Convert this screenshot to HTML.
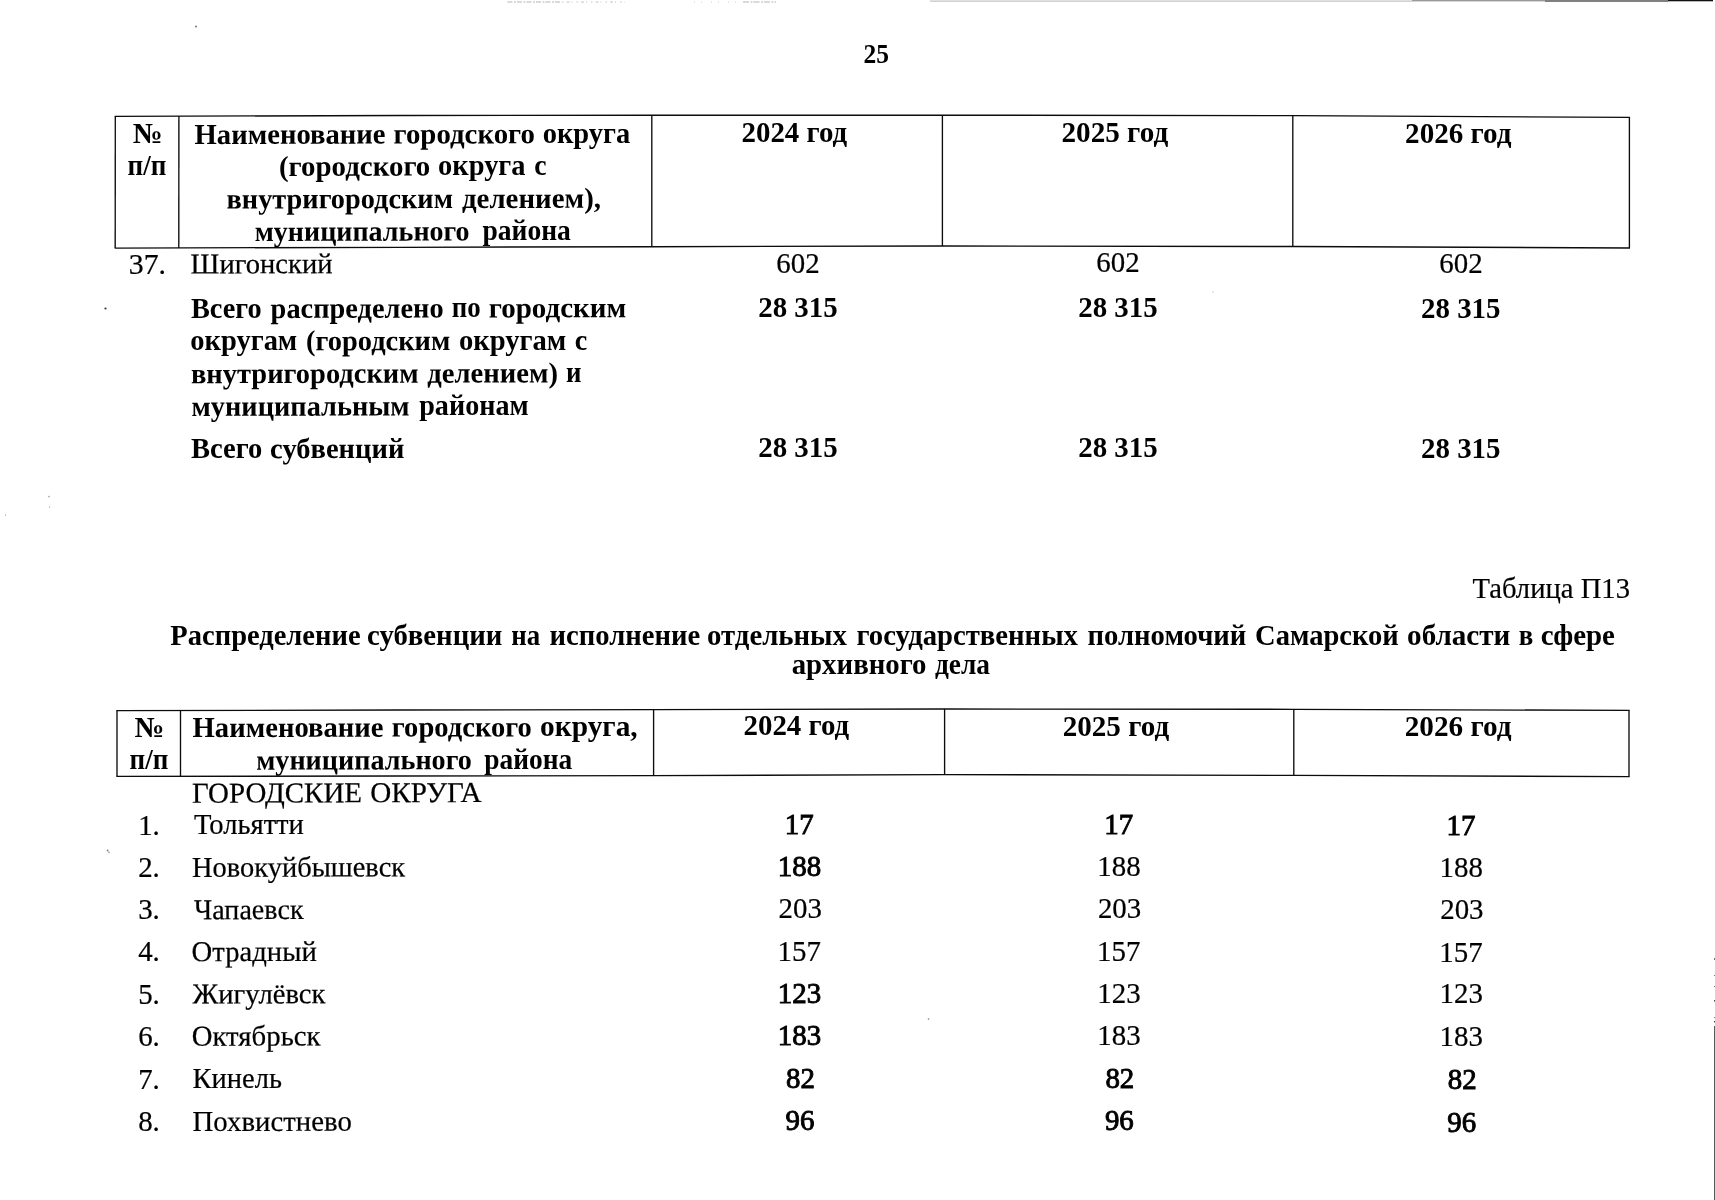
<!DOCTYPE html>
<html lang="ru"><head><meta charset="utf-8"><title>25</title>
<style>
html,body{margin:0;padding:0;background:#fff;}
body{width:1715px;height:1200px;position:relative;overflow:hidden;}
#pg{position:absolute;left:0;top:0;width:1715px;height:1200px;overflow:hidden;font-family:"Liberation Serif",serif;color:#000;filter:blur(0.4px);}
.t{position:absolute;white-space:pre;line-height:normal;font-size:28.9px;-webkit-text-stroke:0.22px #000;}
.b{font-weight:bold;-webkit-text-stroke:0;}
.s{-webkit-text-stroke:0.9px #000;}
svg{position:absolute;left:0;top:0;}
</style></head><body><div id="pg">
<svg width="1715" height="1200" viewBox="0 0 1715 1200" fill="none" stroke="#0c0c0c" stroke-width="1.35">
<polyline points="114.7,116.4 400,115.5 650,115.2 940,115.2 1293,115.6 1630,117.4"/>
<polyline points="114.7,248.1 400,247.3 650,246.7 940,246.0 1293,246.5 1630,248.0"/>
<line x1="115.3" y1="116.3" x2="115.2" y2="248.1"/>
<line x1="178.9" y1="116" x2="178.8" y2="247.9"/>
<line x1="651.8" y1="115.2" x2="651.8" y2="246.7"/>
<line x1="942.4" y1="115.2" x2="942.4" y2="246.0"/>
<line x1="1292.8" y1="115.6" x2="1292.8" y2="246.7"/>
<line x1="1629.4" y1="117.4" x2="1629.4" y2="248"/>
<polyline points="116.4,710.6 400,710.0 653,709.6 944,709.0 1294,709.3 1629.6,710.4"/>
<polyline points="116.4,776.4 400,776.0 653,775.6 944,774.6 1294,775.4 1629.6,776.6"/>
<line x1="117" y1="710.6" x2="117" y2="776.4"/>
<line x1="180.5" y1="710.4" x2="180.5" y2="776.3"/>
<line x1="653.6" y1="709.6" x2="653.6" y2="775.6"/>
<line x1="944.6" y1="709" x2="944.6" y2="774.6"/>
<line x1="1293.8" y1="709.3" x2="1293.8" y2="775.4"/>
<line x1="1629" y1="710.4" x2="1629" y2="776.6"/>
<g stroke="none">
<rect x="930" y="0.6" width="482" height="1" fill="#b4b4b4"/>
<rect x="1412" y="0" width="133" height="1.4" fill="#9a9a9a"/>
<rect x="1545" y="0" width="123" height="2" fill="#808080"/>
<rect x="1668" y="0" width="45" height="1.3" fill="#111"/>
<rect x="1714" y="1026" width="1" height="174" fill="#5a5a5a"/>
<rect x="1714" y="958" width="1" height="2" fill="#777"/><rect x="1714" y="975" width="1" height="1" fill="#777"/><rect x="1714" y="986" width="1" height="1" fill="#777"/><rect x="1714" y="1000" width="1" height="1.5" fill="#444"/><rect x="1714" y="1017" width="1" height="1" fill="#777"/><rect x="1714" y="1021" width="1" height="1.5" fill="#444"/>
<path d="M507.5 2H560" stroke="#b5b5b5" stroke-width="1" stroke-dasharray="5 1.5 2 1"/><path d="M562 2H625" stroke="#c4c4c4" stroke-width="1" stroke-dasharray="1.5 3 3 2 1 4"/><path d="M694 2H742" stroke="#cfcfcf" stroke-width="1" stroke-dasharray="1 6 1 9"/><path d="M743 2H776" stroke="#b5b5b5" stroke-width="1" stroke-dasharray="6 1.5 2 1"/>
<circle cx="105.5" cy="308.5" r="1.1" fill="#333"/>
<circle cx="196" cy="26.5" r="0.9" fill="#666"/>
<circle cx="107.6" cy="850.6" r="1" fill="#888"/><circle cx="109" cy="852.4" r="0.8" fill="#999"/><circle cx="49" cy="496.6" r="0.8" fill="#999"/><circle cx="49.5" cy="507" r="0.7" fill="#aaa"/><circle cx="5.5" cy="515" r="0.7" fill="#aaa"/><circle cx="1213" cy="292" r="0.6" fill="#999"/>
<circle cx="928.5" cy="1019" r="0.8" fill="#777"/>
</g>
</svg>

<div class="t b" style="left:863px;top:38px;font-size:26.4px;transform-origin:0 24px;transform:translate(0.40px,0.50px) rotate(0.006deg) scaleX(0.9657);">25</div>
<div class="t b" style="left:132px;top:117px;transform-origin:0 26px;transform:translate(0.66px,0.43px) rotate(0.006deg) scaleX(1.0300);">№</div>
<div class="t b" style="left:127px;top:149px;transform-origin:0 26px;transform:translate(0.58px,0.22px) rotate(0.006deg) scaleX(0.9386);">п/п</div>
<div class="t b" style="left:194px;top:118px;transform-origin:0 26px;transform:translate(0.55px,0.01px) rotate(-0.143deg) scaleX(0.9918);">Наименование</div>
<div class="t b" style="left:393px;top:117px;transform-origin:0 26px;transform:translate(0.55px,0.52px) rotate(-0.094deg) scaleX(0.9985);">городского</div>
<div class="t b" style="left:542px;top:117px;transform-origin:0 26px;transform:translate(0.71px,0.20px) rotate(0.006deg) scaleX(0.9851);">округа</div>
<div class="t b" style="left:278px;top:149px;transform-origin:0 26px;transform:translate(0.89px,0.90px) rotate(-0.133deg) scaleX(1.0021);">(городского</div>
<div class="t b" style="left:438px;top:149px;transform-origin:0 26px;transform:translate(0.11px,0.47px) rotate(0.006deg) scaleX(0.9839);">округа</div>
<div class="t b" style="left:534px;top:149px;transform-origin:0 26px;transform:translate(0.14px,0.38px) rotate(0.006deg) scaleX(0.9567);">с</div>
<div class="t b" style="left:226px;top:182px;transform-origin:0 26px;transform:translate(0.56px,0.53px) rotate(-0.131deg) scaleX(0.9805);">внутригородским</div>
<div class="t b" style="left:462px;top:182px;transform-origin:0 26px;transform:translate(0.00px,0.00px) rotate(-0.092deg) scaleX(0.9989);">делением),</div>
<div class="t b" style="left:254px;top:214px;transform-origin:0 26px;transform:translate(0.76px,0.96px) rotate(-0.127deg) scaleX(0.9701);">муниципального</div>
<div class="t b" style="left:482px;top:214px;transform-origin:0 26px;transform:translate(0.50px,0.40px) rotate(0.006deg) scaleX(0.9534);">района</div>
<div class="t b" style="left:741px;top:116px;transform-origin:0 26px;transform:translate(0.50px,0.44px) rotate(0.006deg);">2024 год</div>
<div class="t b" style="left:1061px;top:115px;transform-origin:0 26px;transform:translate(0.49px,0.83px) rotate(0.006deg) scaleX(1.0096);">2025 год</div>
<div class="t b" style="left:1405px;top:116px;transform-origin:0 26px;transform:translate(0.09px,0.74px) rotate(0.006deg) scaleX(1.0077);">2026 год</div>
<div class="t" style="left:128px;top:247px;transform-origin:0 26px;transform:translate(0.83px,0.52px) rotate(0.006deg) scaleX(1.0300);">37.</div>
<div class="t" style="left:190px;top:247px;transform-origin:0 26px;transform:translate(0.55px,0.52px) rotate(-0.143deg) scaleX(0.9898);">Шигонский</div>
<div class="t" style="left:776px;top:246px;transform-origin:0 26px;transform:translate(0.25px,0.52px) rotate(0.006deg);">602</div>
<div class="t" style="left:1096px;top:246px;transform-origin:0 26px;transform:translate(0.25px,0.36px) rotate(0.006deg);">602</div>
<div class="t" style="left:1439px;top:247px;transform-origin:0 26px;transform:translate(0.35px,0.12px) rotate(0.006deg);">602</div>
<div class="t b" style="left:190px;top:292px;transform-origin:0 26px;transform:translate(0.96px,0.03px) rotate(0.006deg) scaleX(0.9805);">Всего</div>
<div class="t b" style="left:270px;top:291px;transform-origin:0 26px;transform:translate(0.60px,0.92px) rotate(-0.130deg) scaleX(0.9828);">распределено</div>
<div class="t b" style="left:451px;top:291px;transform-origin:0 26px;transform:translate(0.75px,0.49px) rotate(0.006deg) scaleX(0.9300);">по</div>
<div class="t b" style="left:488px;top:291px;transform-origin:0 26px;transform:translate(0.75px,0.46px) rotate(-0.092deg) scaleX(1.0044);">городским</div>
<div class="t b" style="left:190px;top:324px;transform-origin:0 26px;transform:translate(0.31px,0.49px) rotate(0.006deg) scaleX(0.9862);">округам</div>
<div class="t b" style="left:306px;top:324px;transform-origin:0 26px;transform:translate(0.11px,0.33px) rotate(-0.125deg) scaleX(0.9843);">(городским</div>
<div class="t b" style="left:458px;top:323px;transform-origin:0 26px;transform:translate(0.91px,0.92px) rotate(0.006deg) scaleX(0.9899);">округам</div>
<div class="t b" style="left:574px;top:323px;transform-origin:0 26px;transform:translate(0.72px,0.81px) rotate(0.006deg) scaleX(0.9744);">с</div>
<div class="t b" style="left:190px;top:357px;transform-origin:0 26px;transform:translate(0.95px,0.22px) rotate(-0.139deg) scaleX(0.9861);">внутригородским</div>
<div class="t b" style="left:427px;top:356px;transform-origin:0 26px;transform:translate(0.20px,0.66px) rotate(-0.092deg) scaleX(0.9917);">делением)</div>
<div class="t b" style="left:566px;top:356px;transform-origin:0 26px;transform:translate(0.03px,0.42px) rotate(0.006deg) scaleX(0.9300);">и</div>
<div class="t b" style="left:191px;top:389px;transform-origin:0 26px;transform:translate(0.56px,0.92px) rotate(-0.141deg) scaleX(0.9805);">муниципальным</div>
<div class="t b" style="left:419px;top:389px;transform-origin:0 26px;transform:translate(0.20px,0.28px) rotate(0.006deg) scaleX(0.9741);">районам</div>
<div class="t b" style="left:758px;top:291px;transform-origin:0 26px;transform:translate(0.26px,0.13px) rotate(0.006deg);">28 315</div>
<div class="t b" style="left:1078px;top:290px;transform-origin:0 26px;transform:translate(0.26px,0.97px) rotate(0.006deg);">28 315</div>
<div class="t b" style="left:1421px;top:291px;transform-origin:0 26px;transform:translate(0.06px,0.74px) rotate(0.006deg);">28 315</div>
<div class="t b" style="left:190px;top:432px;transform-origin:0 26px;transform:translate(0.95px,0.33px) rotate(0.006deg) scaleX(0.9889);">Всего</div>
<div class="t b" style="left:270px;top:432px;transform-origin:0 26px;transform:translate(0.11px,0.22px) rotate(-0.142deg) scaleX(0.9873);">субвенций</div>
<div class="t b" style="left:758px;top:431px;transform-origin:0 26px;transform:translate(0.26px,0.13px) rotate(0.006deg);">28 315</div>
<div class="t b" style="left:1078px;top:430px;transform-origin:0 26px;transform:translate(0.26px,0.97px) rotate(0.006deg);">28 315</div>
<div class="t b" style="left:1421px;top:431px;transform-origin:0 26px;transform:translate(0.06px,0.74px) rotate(0.006deg);">28 315</div>
<div class="t" style="left:1472px;top:572px;transform-origin:0 26px;transform:translate(0.55px,0.40px) rotate(0.006deg) scaleX(0.9907);">Таблица П13</div>
<div class="t b" style="left:170px;top:619px;transform-origin:0 26px;transform:translate(0.35px,0.00px) rotate(-0.020deg) scaleX(0.9873);">Распределение</div>
<div class="t b" style="left:367px;top:618px;transform-origin:0 26px;transform:translate(0.10px,0.93px) rotate(-0.020deg) scaleX(0.9948);">субвенции</div>
<div class="t b" style="left:511px;top:618px;transform-origin:0 26px;transform:translate(0.33px,0.88px) rotate(0.006deg) scaleX(0.9300);">на</div>
<div class="t b" style="left:549px;top:618px;transform-origin:0 26px;transform:translate(0.55px,0.87px) rotate(-0.020deg) scaleX(0.9912);">исполнение</div>
<div class="t b" style="left:707px;top:618px;transform-origin:0 26px;transform:translate(0.10px,0.81px) rotate(-0.020deg) scaleX(0.9958);">отдельных</div>
<div class="t b" style="left:856px;top:618px;transform-origin:0 26px;transform:translate(0.55px,0.76px) rotate(-0.020deg) scaleX(0.9937);">государственных</div>
<div class="t b" style="left:1087px;top:618px;transform-origin:0 26px;transform:translate(0.55px,0.68px) rotate(-0.020deg) scaleX(0.9922);">полномочий</div>
<div class="t b" style="left:1255px;top:618px;transform-origin:0 26px;transform:translate(0.06px,0.62px) rotate(-0.020deg) scaleX(0.9876);">Самарской</div>
<div class="t b" style="left:1407px;top:618px;transform-origin:0 26px;transform:translate(0.09px,0.55px) rotate(0.006deg) scaleX(1.0077);">области</div>
<div class="t b" style="left:1518px;top:618px;transform-origin:0 26px;transform:translate(0.86px,0.53px) rotate(0.006deg) scaleX(0.9300);">в</div>
<div class="t b" style="left:1540px;top:618px;transform-origin:0 26px;transform:translate(0.70px,0.51px) rotate(0.006deg);">сфере</div>
<div class="t b" style="left:791px;top:647px;transform-origin:0 26px;transform:translate(0.70px,0.50px) rotate(0.006deg) scaleX(0.9971);">архивного</div>
<div class="t b" style="left:935px;top:647px;transform-origin:0 26px;transform:translate(0.00px,0.50px) rotate(0.006deg) scaleX(0.9465);">дела</div>
<div class="t b" style="left:134px;top:711px;transform-origin:0 26px;transform:translate(0.54px,0.12px) rotate(0.006deg) scaleX(1.0284);">№</div>
<div class="t b" style="left:129px;top:743px;transform-origin:0 26px;transform:translate(0.58px,0.42px) rotate(0.006deg) scaleX(0.9386);">п/п</div>
<div class="t b" style="left:192px;top:711px;transform-origin:0 26px;transform:translate(0.55px,0.12px) rotate(-0.143deg) scaleX(0.9918);">Наименование</div>
<div class="t b" style="left:391px;top:710px;transform-origin:0 26px;transform:translate(0.85px,0.62px) rotate(-0.095deg) scaleX(0.9892);">городского</div>
<div class="t b" style="left:540px;top:710px;transform-origin:0 26px;transform:translate(0.08px,0.30px) rotate(0.006deg) scaleX(1.0166);">округа,</div>
<div class="t b" style="left:256px;top:743px;transform-origin:0 26px;transform:translate(0.16px,0.66px) rotate(-0.126deg) scaleX(0.9737);">муниципального</div>
<div class="t b" style="left:484px;top:743px;transform-origin:0 26px;transform:translate(0.20px,0.09px) rotate(0.006deg) scaleX(0.9490);">района</div>
<div class="t b" style="left:743px;top:709px;transform-origin:0 26px;transform:translate(0.50px,0.44px) rotate(0.006deg);">2024 год</div>
<div class="t b" style="left:1062px;top:709px;transform-origin:0 26px;transform:translate(0.69px,0.63px) rotate(0.006deg) scaleX(1.0077);">2025 год</div>
<div class="t b" style="left:1404px;top:709px;transform-origin:0 26px;transform:translate(0.69px,0.74px) rotate(0.006deg) scaleX(1.0115);">2026 год</div>
<div class="t" style="left:191px;top:776px;transform-origin:0 26px;transform:translate(0.95px,0.72px) rotate(-0.143deg) scaleX(1.0038);">ГОРОДСКИЕ</div>
<div class="t" style="left:370px;top:776px;transform-origin:0 26px;transform:translate(0.29px,0.27px) rotate(-0.105deg) scaleX(1.0092);">ОКРУГА</div>
<div class="t" style="left:138px;top:808px;transform-origin:0 26px;transform:translate(0.13px,0.62px) rotate(0.006deg);">1.</div>
<div class="t" style="left:193px;top:808px;transform-origin:0 26px;transform:translate(0.95px,0.38px) rotate(0.006deg) scaleX(0.9895);">Тольятти</div>
<div class="t s" style="left:784px;top:807px;transform-origin:0 26px;transform:translate(0.85px,0.51px) rotate(0.006deg);">17</div>
<div class="t s" style="left:1104px;top:807px;transform-origin:0 26px;transform:translate(0.25px,0.61px) rotate(0.006deg);">17</div>
<div class="t s" style="left:1446px;top:808px;transform-origin:0 26px;transform:translate(0.55px,0.92px) rotate(0.006deg);">17</div>
<div class="t" style="left:138px;top:850px;transform-origin:0 26px;transform:translate(0.13px,0.99px) rotate(0.006deg);">2.</div>
<div class="t" style="left:191px;top:850px;transform-origin:0 26px;transform:translate(0.95px,0.89px) rotate(-0.142deg) scaleX(0.9858);">Новокуйбышевск</div>
<div class="t s" style="left:777px;top:849px;transform-origin:0 26px;transform:translate(0.85px,0.88px) rotate(0.006deg);">188</div>
<div class="t" style="left:1097px;top:849px;transform-origin:0 26px;transform:translate(0.25px,0.98px) rotate(0.006deg);">188</div>
<div class="t" style="left:1439px;top:851px;transform-origin:0 26px;transform:translate(0.55px,0.29px) rotate(0.006deg);">188</div>
<div class="t" style="left:138px;top:893px;transform-origin:0 26px;transform:translate(0.13px,0.36px) rotate(0.006deg);">3.</div>
<div class="t" style="left:194px;top:893px;transform-origin:0 26px;transform:translate(0.00px,0.25px) rotate(-0.143deg) scaleX(0.9726);">Чапаевск</div>
<div class="t" style="left:778px;top:892px;transform-origin:0 26px;transform:translate(0.52px,0.25px) rotate(0.006deg);">203</div>
<div class="t" style="left:1097px;top:892px;transform-origin:0 26px;transform:translate(0.92px,0.35px) rotate(0.006deg);">203</div>
<div class="t" style="left:1440px;top:892px;transform-origin:0 26px;transform:translate(0.23px,0.66px) rotate(0.006deg);">203</div>
<div class="t" style="left:138px;top:935px;transform-origin:0 26px;transform:translate(0.13px,0.33px) rotate(0.006deg);">4.</div>
<div class="t" style="left:191px;top:935px;transform-origin:0 26px;transform:translate(0.60px,0.23px) rotate(-0.143deg) scaleX(0.9927);">Отрадный</div>
<div class="t" style="left:777px;top:934px;transform-origin:0 26px;transform:translate(0.62px,0.62px) rotate(0.006deg);">157</div>
<div class="t" style="left:1097px;top:934px;transform-origin:0 26px;transform:translate(0.02px,0.72px) rotate(0.006deg);">157</div>
<div class="t" style="left:1439px;top:935px;transform-origin:0 26px;transform:translate(0.32px,0.53px) rotate(0.006deg);">157</div>
<div class="t" style="left:138px;top:977px;transform-origin:0 26px;transform:translate(0.13px,0.70px) rotate(0.006deg);">5.</div>
<div class="t" style="left:192px;top:977px;transform-origin:0 26px;transform:translate(0.50px,0.60px) rotate(-0.143deg) scaleX(0.9933);">Жигулёвск</div>
<div class="t s" style="left:777px;top:976px;transform-origin:0 26px;transform:translate(0.85px,0.99px) rotate(0.006deg);">123</div>
<div class="t" style="left:1097px;top:977px;transform-origin:0 26px;transform:translate(0.25px,0.09px) rotate(0.006deg);">123</div>
<div class="t" style="left:1439px;top:977px;transform-origin:0 26px;transform:translate(0.55px,0.40px) rotate(0.006deg);">123</div>
<div class="t" style="left:138px;top:1019px;transform-origin:0 26px;transform:translate(0.13px,0.87px) rotate(0.006deg);">6.</div>
<div class="t" style="left:191px;top:1019px;transform-origin:0 26px;transform:translate(0.70px,0.77px) rotate(-0.143deg) scaleX(0.9970);">Октябрьск</div>
<div class="t s" style="left:777px;top:1019px;transform-origin:0 26px;transform:translate(0.85px,0.36px) rotate(0.006deg);">183</div>
<div class="t" style="left:1097px;top:1019px;transform-origin:0 26px;transform:translate(0.25px,0.46px) rotate(0.006deg);">183</div>
<div class="t" style="left:1439px;top:1019px;transform-origin:0 26px;transform:translate(0.55px,0.77px) rotate(0.006deg);">183</div>
<div class="t" style="left:138px;top:1062px;transform-origin:0 26px;transform:translate(0.13px,0.64px) rotate(0.006deg);">7.</div>
<div class="t" style="left:192px;top:1062px;transform-origin:0 26px;transform:translate(0.55px,0.43px) rotate(0.006deg) scaleX(0.9861);">Кинель</div>
<div class="t s" style="left:785px;top:1061px;transform-origin:0 26px;transform:translate(0.98px,0.73px) rotate(0.006deg);">82</div>
<div class="t s" style="left:1105px;top:1061px;transform-origin:0 26px;transform:translate(0.38px,0.83px) rotate(0.006deg);">82</div>
<div class="t s" style="left:1447px;top:1063px;transform-origin:0 26px;transform:translate(0.68px,0.14px) rotate(0.006deg);">82</div>
<div class="t" style="left:138px;top:1105px;transform-origin:0 26px;transform:translate(0.13px,0.21px) rotate(0.006deg);">8.</div>
<div class="t" style="left:192px;top:1105px;transform-origin:0 26px;transform:translate(0.55px,0.11px) rotate(-0.143deg) scaleX(0.9971);">Похвистнево</div>
<div class="t s" style="left:785px;top:1104px;transform-origin:0 26px;transform:translate(0.52px,0.10px) rotate(0.006deg);">96</div>
<div class="t s" style="left:1104px;top:1104px;transform-origin:0 26px;transform:translate(0.92px,0.20px) rotate(0.006deg);">96</div>
<div class="t s" style="left:1447px;top:1105px;transform-origin:0 26px;transform:translate(0.22px,0.91px) rotate(0.006deg);">96</div>
</div></body></html>
